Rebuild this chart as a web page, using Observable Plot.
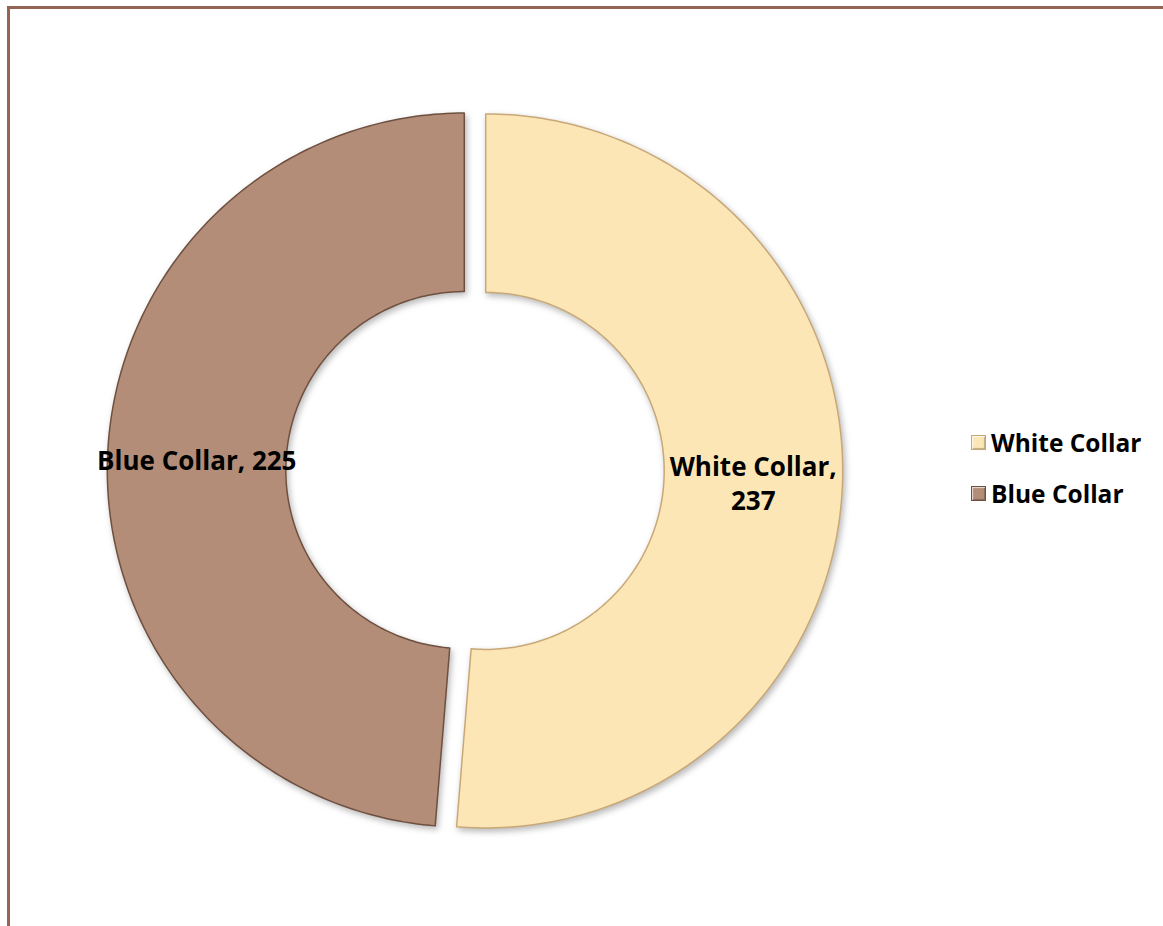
<!DOCTYPE html>
<html>
<head>
<meta charset="utf-8">
<script src="https://cdn.jsdelivr.net/npm/d3@7"></script>
<script src="https://cdn.jsdelivr.net/npm/@observablehq/plot@0.6"></script>
<style>
  html, body { margin: 0; padding: 0; background: #fff; overflow: hidden; }
  #wrap { position: relative; width: 1163px; height: 926px; overflow: hidden; }
  #frame { position: absolute; left: 7px; top: 6px; width: 1300px; height: 1100px;
           border-left: 3px solid #946553; border-top: 3px solid #946553; box-sizing: border-box; }
  #chart { position: absolute; left: 0; top: 0; }
  #chart path { filter: drop-shadow(2px 3px 3px rgba(0,0,0,0.28)); }
  #legend { position: absolute; left: 971px; top: 417px; font-family: "Open Sans", sans-serif;
            font-weight: bold; font-size: 24.5px; color: #000; }
  #legend .item { display: flex; align-items: center; height: 51px; }
  #legend .sw { width: 15px; height: 15px; margin-right: 5px; box-sizing: border-box; }
</style>
</head>
<body>
<div id="wrap">
  <div id="frame"></div>
  <div id="chart"></div>
  <div id="legend"></div>
</div>
<script>
// ---- data ----
const categories = ["White Collar", "Blue Collar"];
const values = [237, 225];
const colors = ["#fde6b6", "#b38d77"];
const edgeColors = ["#c9a877", "#6f5040"];
const labelBreak = [true, false];

// ---- geometry (in units of outer radius) ----
const innerRatio = 0.5;
const explode = 0.03;
const steps = 180;

const pie = d3.pie().sort(null).value(d => d.value);
const rows = categories.map((name, i) => ({name, value: values[i], i}));
const arcs = pie(rows);

const pts = [];
const labels = [];
for (const a of arcs) {
  const mid = (a.startAngle + a.endAngle) / 2;
  const ox = explode * Math.sin(mid), oy = explode * Math.cos(mid);
  const outer = [], inner = [];
  for (let k = 0; k <= steps; k++) {
    const t = a.startAngle + (a.endAngle - a.startAngle) * k / steps;
    outer.push({name: a.data.name, x: ox + Math.sin(t), y: oy + Math.cos(t)});
    inner.push({name: a.data.name, x: ox + innerRatio * Math.sin(t), y: oy + innerRatio * Math.cos(t)});
  }
  pts.push(...outer, ...inner.reverse());
  const rc = (1 + innerRatio) / 2;
  labels.push({
    name: a.data.name,
    x: ox + rc * Math.sin(mid),
    y: oy + rc * Math.cos(mid),
    text: a.data.name + "," + (labelBreak[a.data.i] ? "\n" : " ") + a.data.value
  });
}

const R = 357, cx = 474.5, cy = 470;
const chart = Plot.plot({
  width: 1163,
  height: 926,
  margin: 0,
  x: {domain: [-1, 1], range: [cx - R, cx + R], axis: null},
  y: {domain: [-1, 1], range: [cy + R, cy - R], axis: null},
  color: {domain: categories, range: colors},
  style: {background: "transparent", overflow: "visible"},
  marks: [
    Plot.line(pts, {x: "x", y: "y", z: "name", fill: "name", curve: "linear-closed",
      stroke: d => edgeColors[categories.indexOf(d.name)], strokeWidth: 1.5}),
    Plot.text(labels, {x: "x", y: "y", text: "text", fontSize: 26, fontWeight: "bold",
      fontFamily: "'Open Sans', sans-serif", fill: "#000", lineHeight: 1.3})
  ]
});
document.getElementById("chart").appendChild(chart);

// legend
const legend = document.getElementById("legend");
categories.forEach((name, i) => {
  const item = document.createElement("div");
  item.className = "item";
  const sw = document.createElement("div");
  sw.className = "sw";
  sw.style.background = colors[i];
  sw.style.border = "1px solid " + edgeColors[i];
  sw.style.boxShadow = "inset 1px 1px 1px rgba(255,255,255,0.7), inset -1px -1px 1px rgba(0,0,0,0.25)";
  const tx = document.createElement("span");
  tx.textContent = name;
  item.appendChild(sw);
  item.appendChild(tx);
  legend.appendChild(item);
});
</script>
</body>
</html>
